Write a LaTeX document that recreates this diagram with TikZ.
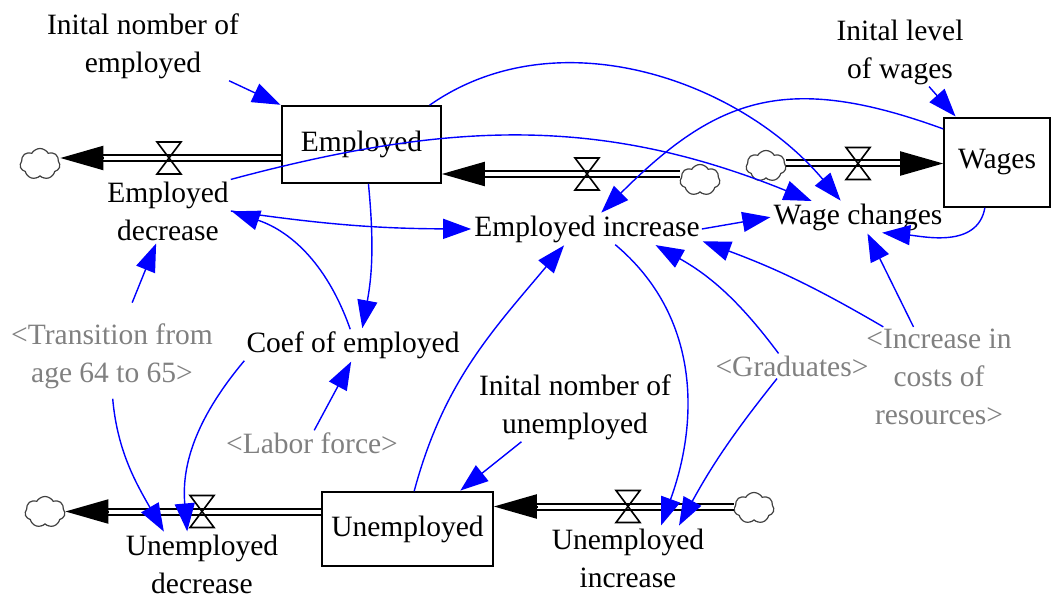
\documentclass[tikz,border=0pt]{standalone}
\usepackage{fontspec}
\setmainfont{Liberation Serif}
\usetikzlibrary{arrows.meta,shapes.symbols,calc}

\tikzset{
  stock/.style={draw,line width=1.6pt,inner sep=2pt},
  var/.style={inner sep=2pt,align=center},
  shadowvar/.style={var,text=gray},
  source/.style={cloud,cloud puffs=7,cloud puff arc=120,aspect=1.3,draw=black!75,line width=1.2pt,minimum width=40pt,minimum height=31pt,inner sep=0pt},
  pipe/.style={double,double distance=4pt,line width=2pt},
  flowtip/.style={line width=2pt,-{Triangle[length=43pt,width=24pt]}},
  link/.style={draw=blue,line width=1.4pt,-{Triangle[length=28pt,width=20pt]},shorten >=1pt},
  valve/.pic={\draw[line width=1.6pt] (-12,16) -- (12,16) -- (-12,-16) -- (12,-16) -- cycle;}
}

\begin{document}
\begin{tikzpicture}[x=1pt,y=-1pt,font=\fontsize{29.5}{38}\selectfont]
\useasboundingbox (0,0) rectangle (1051,601);

% stocks
\node[stock,minimum width=159pt,minimum height=77pt] (empl) at (361.5,144.5) {Employed};
\node[stock,minimum width=171pt,minimum height=74pt] (unempl) at (407.5,529) {Unemployed};
\node[stock,minimum width=106pt,minimum height=89pt] (wages) at (997,162.5) {Wages};

% clouds
\node[source] (cl1) at (40,164) {};
\node[source] (cl2) at (700,180) {};
\node[source] (cl3) at (766,166) {};
\node[source] (cl4) at (45,512) {};
\node[source] (cl5) at (754,508) {};

% variables
\node[var] (ini_emp) at (143,46) {Inital nomber of\\employed};
\node[var] (empdec) at (168,211) {Employed\\decrease};
\node[var] (empinc) at (587,229) {Employed increase};
\node[var] (wagech) at (858,217) {Wage changes};
\node[var] (ini_wag) at (900,52) {Inital level\\of wages};
\node[var] (coef) at (353,345) {Coef of employed};
\node[var] (ini_unemp) at (575,407) {Inital nomber of\\unemployed};
\node[var] (unempdec) at (202,564) {Unemployed\\decrease};
\node[var] (unempinc) at (628,558) {Unemployed\\increase};
\node[shadowvar] (trans) at (112,356) {<Transition from\\age 64 to 65>};
\node[shadowvar] (labor) at (312,443) {<Labor force>};
\node[shadowvar] (grad) at (792,366) {<Graduates>};
\node[shadowvar] (costs) at (939,377) {<Increase in\\costs of\\resources>};

% flows
\coordinate (v1) at (169,158);
\draw[pipe,shorten >=30pt] (empl.west |- v1) -- (cl1.east |- v1);
\draw[flowtip] ($(cl1.east |- v1)+(43,0)$) -- (cl1.east |- v1);
\pic at (v1) {valve};

\coordinate (v2) at (587,174);
\draw[pipe,shorten >=30pt] (cl2.west |- v2) -- (empl.east |- v2);
\draw[flowtip] ($(empl.east |- v2)+(43,0)$) -- (empl.east |- v2);
\pic at (v2) {valve};

\coordinate (v3) at (858,163.5);
\draw[pipe,shorten >=30pt] (cl3.east |- v3) -- (wages.west |- v3);
\draw[flowtip] ($(wages.west |- v3)+(-42,0)$) -- (wages.west |- v3);
\pic at (v3) {valve};

\coordinate (v4) at (202,511.5);
\draw[pipe,shorten >=30pt] (unempl.west |- v4) -- (cl4.east |- v4);
\draw[flowtip] ($(cl4.east |- v4)+(43,0)$) -- (cl4.east |- v4);
\pic at (v4) {valve};

\coordinate (v5) at (628,506.5);
\draw[pipe,shorten >=30pt] (cl5.west |- v5) -- (unempl.east |- v5);
\draw[flowtip] ($(unempl.east |- v5)+(44,0)$) -- (unempl.east |- v5);
\pic at (v5) {valve};

% links
\draw[link] (ini_emp.-22) -- (empl.north west);
\draw[link] (empl.-80) to[bend left=8] (coef.60);
\draw[link] (coef.100) to[bend right=26] (empdec.east);
\draw[link] (coef.south west) to[out=-130,in=95] (unempdec.115);
\draw[link,shorten <=20pt] (trans.70) -- (empdec.-110);
\draw[link,shorten <=8pt] (trans.south) to[out=-85,in=120] (unempdec.140);
\draw[link] (labor.80) -- (coef.-95);
\draw[link] (empl.30) to[out=35,in=130,looseness=0.95] (wagech.137);
\draw[link] (empdec.north east) to[out=15,in=158] (wagech.161);
\draw[link] (empdec.east) to[bend right=4] (empinc.west);
\draw[link] (empinc.east) -- (wagech.west);
\draw[link] (unempl.80) to[out=75,in=-130] (empinc.-145);
\draw[link] (empinc.-29) to[out=-40,in=70] (unempinc.44);
\draw[link] (grad.137) to[bend right=12] (empinc.-13);
\draw[link] (grad.-140) to[bend right=5] (unempinc.32);
\draw[link] (costs.138) to[bend right=5] (empinc.-6);
\draw[link] (costs.117) -- (wagech.-60);
\draw[link] (wages.-105) to[out=-100,in=-5] (wagech.-34);
\draw[link] (wages.148) to[out=160,in=45,looseness=1.2] (empinc.49);
\draw[link] (ini_wag.-50) -- (wages.132);
\draw[link] (ini_unemp.-147) -- (unempl.36);
\end{tikzpicture}
\end{document}
